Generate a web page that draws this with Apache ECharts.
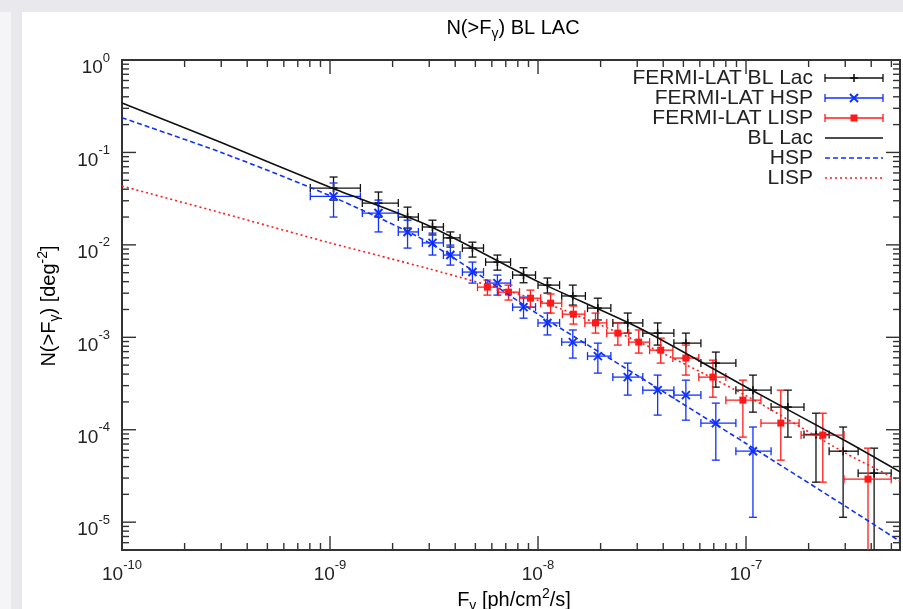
<!DOCTYPE html>
<html>
<head>
<meta charset="utf-8">
<title>N(>F) BL LAC</title>
<script src="https://cdn.jsdelivr.net/npm/echarts@6/dist/echarts.min.js"></script>
<style>
  html, body { margin: 0; padding: 0; background: #fff; }
  #page { position: relative; width: 903px; height: 609px; overflow: hidden; background: #fff; }
  .band-top { position: absolute; left: 0; top: 0; width: 903px; height: 12px; background: #e9e9ed; }
  .band-left { position: absolute; left: 0; top: 12px; width: 11px; height: 597px; background: #f5f5f7; }
  .strip-left { position: absolute; left: 11px; top: 12px; width: 11px; height: 597px; background: #e8e8ed; }
  #chart { position: absolute; left: 0; top: 0; width: 903px; height: 609px; }
</style>
</head>
<body>
<div id="page">
  <div class="band-top"></div>
  <div class="band-left"></div>
  <div class="strip-left"></div>
  <div id="chart"></div>
</div>
<script>
// ---- axis ranges ----
const xMin = 1e-10, xMax = 5.5e-7;
const yMin = 5e-6, yMax = 1;

// ---- model curves N(>F) ----
const curveFlux  = [1e-10, 3e-10, 1e-9, 3e-9, 1e-8, 3e-8, 1e-7, 3e-7, 5.5e-7];
const curveBLLac = [0.343, 0.128, 0.042, 0.016, 0.0040, 0.00129, 2.9e-4, 7.6e-5, 3.5e-5];
const curveHSP   = [0.237, 0.100, 0.034, 0.0105, 0.00178, 3.87e-4, 7.1e-5, 1.49e-5, 6.2e-6];
const curveLISP  = [0.0433, 0.0222, 0.0105, 0.0055, 0.00251, 9.1e-4, 2.34e-4, 5.6e-5, 2.8e-5];

// ---- FERMI-LAT BL Lac (flux bins shared with HSP) ----
const binFlux = [1.04e-9, 1.71e-9, 2.36e-9, 3.11e-9, 3.79e-9, 4.84e-9, 6.38e-9, 8.52e-9, 1.11e-8, 1.47e-8,
                 1.94e-8, 2.70e-8, 3.76e-8, 5.14e-8, 7.16e-8, 1.08e-7, 1.59e-7, 2.17e-7, 2.93e-7, 4.13e-7];
const binLo   = [8.04e-10, 1.43e-9, 2.13e-9, 2.78e-9, 3.51e-9, 4.33e-9, 5.60e-9, 7.55e-9, 1.0e-8, 1.30e-8,
                 1.73e-8, 2.29e-8, 3.19e-8, 4.50e-8, 6.07e-8, 8.94e-8, 1.32e-7, 1.90e-7, 2.51e-7, 3.46e-7];
const binHi   = [1.40e-9, 2.13e-9, 2.66e-9, 3.51e-9, 4.22e-9, 5.47e-9, 7.38e-9, 9.73e-9, 1.27e-8, 1.69e-8,
                 2.24e-8, 3.19e-8, 4.50e-8, 6.07e-8, 8.94e-8, 1.32e-7, 1.90e-7, 2.51e-7, 3.46e-7, 4.99e-7];

const blN   = [0.0412, 0.0283, 0.0200, 0.0156, 0.0119, 0.00923, 0.00651, 0.00471, 0.00367, 0.0028,
               0.00207, 0.00143, 0.00111, 8.65e-4, 5.26e-4, 2.68e-4, 1.76e-4, 8.9e-5, 5.86e-5, 3.39e-5];
const blNlo = [0.0305, 0.0200, 0.0152, 0.0128, 0.00947, 0.00738, 0.00533, 0.00389, 0.00301, 0.00223,
               0.00154, 0.00111, 8.24e-4, 5.96e-4, 2.89e-4, 1.55e-4, 8.32e-5, 2.71e-5, 1.13e-5, 4.6e-6];
const blNhi = [0.0542, 0.0373, 0.0256, 0.0185, 0.0138, 0.0107, 0.00776, 0.00566, 0.00438, 0.00367,
               0.00265, 0.00183, 0.00143, 0.00111, 6.92e-4, 3.90e-4, 2.68e-4, 1.51e-4, 1.07e-4, 6.32e-5];

// ---- FERMI-LAT HSP ----
const hspN   = [0.0335, 0.0221, 0.0138, 0.0105, 0.00776, 0.00508, 0.00386, 0.00212, 0.00143, 8.87e-4,
                6.26e-4, 3.71e-4, 2.68e-4, 2.37e-4, 1.18e-4, 5.86e-5];
const hspNlo = [0.0200, 0.0138, 0.00923, 0.00776, 0.00604, 0.00386, 0.00286, 0.00161, 0.00106, 5.96e-4,
                4.10e-4, 2.37e-4, 1.44e-4, 1.27e-4, 4.69e-5, 1.13e-5];
const hspNhi = [0.0467, 0.0305, 0.0185, 0.0134, 0.00995, 0.00651, 0.00471, 0.00272, 0.00183, 0.00120,
                8.65e-4, 5.26e-4, 3.90e-4, 3.44e-4, 1.94e-4, 1.07e-4];

// ---- FERMI-LAT LISP ----
const lispFlux = [5.71e-9, 7.21e-9, 9.20e-9, 1.15e-8, 1.48e-8, 1.89e-8, 2.42e-8, 3.05e-8, 3.89e-8, 5.14e-8,
                  6.93e-8, 9.66e-8, 1.47e-7, 2.34e-7, 3.86e-7];
const lispLo   = [5.12e-9, 6.45e-9, 8.15e-9, 1.03e-8, 1.31e-8, 1.68e-8, 2.14e-8, 2.73e-8, 3.44e-8, 4.45e-8,
                  5.93e-8, 8.0e-8, 1.18e-7, 1.84e-7, 2.96e-7];
const lispHi   = [6.38e-9, 8.15e-9, 1.03e-8, 1.30e-8, 1.68e-8, 2.14e-8, 2.73e-8, 3.44e-8, 4.45e-8, 5.93e-8,
                  8.0e-8, 1.18e-7, 1.80e-7, 2.96e-7, 4.99e-7];
const lispN   = [0.00349, 0.00308, 0.00265, 0.00234, 0.00178, 0.00143, 0.00111, 8.87e-4, 7.26e-4, 5.96e-4,
                 3.71e-4, 2.09e-4, 1.18e-4, 8.75e-5, 2.92e-5];
const lispNlo = [0.00286, 0.00253, 0.00212, 0.00183, 0.00139, 0.00111, 8.24e-4, 6.75e-4, 5.26e-4, 3.90e-4,
                 2.25e-4, 8.32e-5, 4.69e-5, 2.71e-5, 0];
const lispNhi = [0.00416, 0.00367, 0.00324, 0.00294, 0.00218, 0.00183, 0.00143, 0.00120, 9.8e-4, 8.24e-4,
                 5.66e-4, 3.44e-4, 2.68e-4, 1.51e-4, 6.32e-5];

// ---- text ----
const titleText = '{a|N(>F}{sub|γ}{a|) BL LAC}';
const xTitleText = '{a|F}{sub|γ}{a| [ph/cm}{sup|2}{a|/s]}';
const yTitleText = '{a|N(>F}{sub|γ}{a|) [deg}{sup|-2}{a|]}';
const legendNames = ['FERMI-LAT BL Lac', 'FERMI-LAT HSP', 'FERMI-LAT LISP', 'BL Lac', 'HSP', 'LISP'];

const FONT = "'Liberation Sans', Arial, Helvetica, sans-serif";
const INK = '#222';
const BLACK = '#111111', BLUE = '#1030ff', RED = '#ff1a1a';
const FRAME = '#333';

const GRID = { left: 122, top: 60, width: 778, height: 490 };

const textRich = {
  a:   { fontSize: 20, fontFamily: FONT, color: INK, lineHeight: 24 },
  sub: { fontSize: 14, fontFamily: FONT, color: INK, lineHeight: 16, padding: [12, 0, 0, 0] },
  sup: { fontSize: 14, fontFamily: FONT, color: INK, lineHeight: 16, padding: [0, 0, 12, 0] }
};
const tickRich = {
  b: { fontSize: 19, fontFamily: FONT, color: INK, lineHeight: 22 },
  s: { fontSize: 13, fontFamily: FONT, color: INK, lineHeight: 14, padding: [0, 0, 20, 0] }
};

function powerLabel(v) {
  const e = Math.log10(v);
  const r = Math.round(e);
  if (Math.abs(e - r) > 1e-6) return '';
  return '{b|10}{s|' + r + '}';
}

// point symbols drawn at (x, y)
function markerShapes(kind, x, y, color) {
  if (kind === 'plus') {
    const st = { stroke: color, lineWidth: 1.6 };
    return [
      { type: 'line', shape: { x1: x - 4, y1: y, x2: x + 4, y2: y }, style: st },
      { type: 'line', shape: { x1: x, y1: y - 4, x2: x, y2: y + 4 }, style: st }
    ];
  }
  if (kind === 'cross') {
    const st = { stroke: color, lineWidth: 2 };
    return [
      { type: 'line', shape: { x1: x - 4, y1: y - 4, x2: x + 4, y2: y + 4 }, style: st },
      { type: 'line', shape: { x1: x - 4, y1: y + 4, x2: x + 4, y2: y - 4 }, style: st }
    ];
  }
  return [{ type: 'rect', shape: { x: x - 3.5, y: y - 3.5, width: 7, height: 7 }, style: { fill: color } }];
}

function errorBarSeries(name, color, marker, xs, xlo, xhi, ys, ylo, yhi) {
  return {
    type: 'custom',
    name: name,
    coordinateSystem: 'cartesian2d',
    data: xs.map((x, i) => [x, ys[i], xlo[i], xhi[i], ylo[i], yhi[i]]),
    encode: { x: 0, y: 1 },
    silent: true,
    renderItem: function (params, api) {
      const cs = params.coordSys;
      const bottom = cs.y + cs.height;
      const right = cs.x + cs.width;
      const x = api.value(0), y = api.value(1);
      const c = api.coord([x, y]);
      const xl = api.coord([api.value(2), y])[0];
      const xr = Math.min(api.coord([api.value(3), y])[0], right);
      const yt = api.coord([x, api.value(5)])[1];
      const lo = api.value(4);
      let yb = bottom, capLow = false;
      if (lo > 0) {
        const p = api.coord([x, lo])[1];
        if (p < bottom) { yb = p; capLow = true; }
      }
      const st = { stroke: color, lineWidth: 1.3 };
      const cap = 4;
      const kids = [
        { type: 'line', shape: { x1: xl, y1: c[1], x2: xr, y2: c[1] }, style: st },
        { type: 'line', shape: { x1: xl, y1: c[1] - cap, x2: xl, y2: c[1] + cap }, style: st },
        { type: 'line', shape: { x1: c[0], y1: yt, x2: c[0], y2: yb }, style: st },
        { type: 'line', shape: { x1: c[0] - cap, y1: yt, x2: c[0] + cap, y2: yt }, style: st }
      ];
      if (xr < right) kids.push({ type: 'line', shape: { x1: xr, y1: c[1] - cap, x2: xr, y2: c[1] + cap }, style: st });
      if (capLow) kids.push({ type: 'line', shape: { x1: c[0] - cap, y1: yb, x2: c[0] + cap, y2: yb }, style: st });
      return { type: 'group', children: kids.concat(markerShapes(marker, c[0], c[1], color)) };
    }
  };
}

function curveSeries(name, color, dash, values) {
  return {
    type: 'line',
    name: name,
    data: curveFlux.map((f, i) => [f, values[i]]),
    symbol: 'none',
    smooth: 0.25,
    silent: true,
    lineStyle: { color: color, width: 1.6, type: dash }
  };
}

// gnuplot-style ticks (majors at decades, minors at 2..9), mirrored on all four sides
const tickItems = [];
for (let e = -10; e <= -6; e++) {
  for (let m = 1; m <= 9; m++) {
    const v = m * Math.pow(10, e);
    if (v < xMin * 0.9999 || v > xMax * 1.0001) continue;
    tickItems.push([v, yMin, 0, m === 1 ? 1 : 0]);
  }
}
for (let e = -6; e <= 0; e++) {
  for (let m = 1; m <= 9; m++) {
    const v = m * Math.pow(10, e);
    if (v < yMin * 0.9999 || v > yMax * 1.0001) continue;
    tickItems.push([xMin, v, 1, m === 1 ? 1 : 0]);
  }
}

const tickSeries = {
  type: 'custom',
  name: 'ticks',
  coordinateSystem: 'cartesian2d',
  data: tickItems,
  encode: { x: 0, y: 1 },
  silent: true,
  z: 5,
  renderItem: function (params, api) {
    const cs = params.coordSys;
    const len = api.value(3) ? 14 : 7;
    const st = { stroke: FRAME, lineWidth: 1.4 };
    const p = api.coord([api.value(0), api.value(1)]);
    if (api.value(2) === 0) {
      const b = cs.y + cs.height, t = cs.y;
      return { type: 'group', children: [
        { type: 'line', shape: { x1: p[0], y1: b, x2: p[0], y2: b - len }, style: st },
        { type: 'line', shape: { x1: p[0], y1: t, x2: p[0], y2: t + len }, style: st }
      ] };
    }
    const l = cs.x, r = cs.x + cs.width;
    return { type: 'group', children: [
      { type: 'line', shape: { x1: l, y1: p[1], x2: l + len, y2: p[1] }, style: st },
      { type: 'line', shape: { x1: r, y1: p[1], x2: r - len, y2: p[1] }, style: st }
    ] };
  }
};

// key, gnuplot style: text right-aligned, sample to its right
const legendSpec = [
  { kind: 'data', color: BLACK, marker: 'plus' },
  { kind: 'data', color: BLUE, marker: 'cross' },
  { kind: 'data', color: RED, marker: 'square' },
  { kind: 'line', color: BLACK, dash: 'solid' },
  { kind: 'line', color: BLUE, dash: [5, 3] },
  { kind: 'line', color: RED, dash: [2, 3] }
];
const legendGraphics = [];
legendSpec.forEach((spec, i) => {
  const y = 78 + i * 20;
  const x1 = 825, x2 = 883, xm = 854;
  legendGraphics.push({
    type: 'text', x: 813, y: y, silent: true,
    style: { text: legendNames[i], fill: INK, fontSize: 21, fontFamily: FONT, align: 'right', verticalAlign: 'middle' }
  });
  if (spec.kind === 'data') {
    const st = { stroke: spec.color, lineWidth: 1.3 };
    legendGraphics.push(
      { type: 'line', silent: true, shape: { x1: x1, y1: y, x2: x2, y2: y }, style: st },
      { type: 'line', silent: true, shape: { x1: x1, y1: y - 4, x2: x1, y2: y + 4 }, style: st },
      { type: 'line', silent: true, shape: { x1: x2, y1: y - 4, x2: x2, y2: y + 4 }, style: st }
    );
    markerShapes(spec.marker, xm, y, spec.color).forEach(s => { s.silent = true; legendGraphics.push(s); });
  } else {
    legendGraphics.push({
      type: 'line', silent: true, shape: { x1: x1, y1: y, x2: x2, y2: y },
      style: { stroke: spec.color, lineWidth: 1.6, lineDash: spec.dash === 'solid' ? null : spec.dash }
    });
  }
});

const chart = echarts.init(document.getElementById('chart'), null, { renderer: 'canvas' });

chart.setOption({
  animation: false,
  backgroundColor: 'transparent',
  grid: Object.assign({ show: true, borderColor: FRAME, borderWidth: 2, backgroundColor: '#fff',
                        containLabel: false, outerBoundsMode: 'none' }, GRID),
  xAxis: {
    type: 'log', logBase: 10, min: xMin, max: xMax,
    axisLine: { show: false },
    axisTick: { show: false },
    splitLine: { show: false },
    minorTick: { show: false },
    axisLabel: { formatter: powerLabel, rich: tickRich, margin: 14, hideOverlap: false }
  },
  yAxis: {
    type: 'log', logBase: 10, min: yMin, max: yMax,
    axisLine: { show: false },
    axisTick: { show: false },
    splitLine: { show: false },
    minorTick: { show: false },
    axisLabel: { formatter: powerLabel, rich: tickRich, margin: 12, padding: [16, 0, 0, 0], hideOverlap: false }
  },
  graphic: [
    { type: 'text', x: 513, y: 28, silent: true,
      style: { text: titleText, rich: textRich, align: 'center', verticalAlign: 'middle' } },
    { type: 'text', x: 514, y: 600, silent: true,
      style: { text: xTitleText, rich: textRich, align: 'center', verticalAlign: 'middle' } },
    { type: 'text', x: 49, y: 306, rotation: Math.PI / 2, silent: true,
      style: { text: yTitleText, rich: textRich, align: 'center', verticalAlign: 'middle' } }
  ].concat(legendGraphics),
  series: [
    errorBarSeries('FERMI-LAT BL Lac', BLACK, 'plus', binFlux, binLo, binHi, blN, blNlo, blNhi),
    errorBarSeries('FERMI-LAT HSP', BLUE, 'cross', binFlux.slice(0, hspN.length), binLo.slice(0, hspN.length),
                   binHi.slice(0, hspN.length), hspN, hspNlo, hspNhi),
    errorBarSeries('FERMI-LAT LISP', RED, 'square', lispFlux, lispLo, lispHi, lispN, lispNlo, lispNhi),
    curveSeries('BL Lac', BLACK, 'solid', curveBLLac),
    curveSeries('HSP', BLUE, [5, 3], curveHSP),
    curveSeries('LISP', RED, [2, 3], curveLISP),
    tickSeries
  ]
});
</script>
</body>
</html>
